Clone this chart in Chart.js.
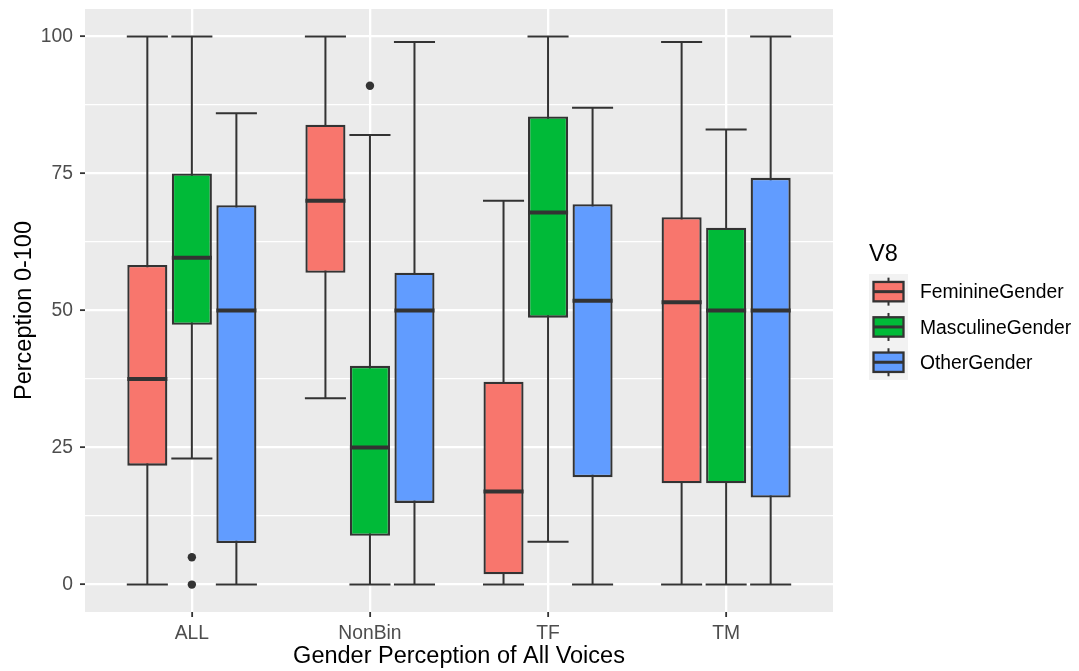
<!DOCTYPE html>
<html><head><meta charset="utf-8">
<script src="https://cdn.jsdelivr.net/npm/chart.js@4/dist/chart.umd.min.js"></script>
<style>html,body{margin:0;padding:0;background:#fff;}canvas{display:block;}</style>
</head><body>
<canvas id="c" width="1079" height="671"></canvas>
<script>
// ---- data ----
const categories = ['ALL', 'NonBin', 'TF', 'TM'];
const categoryPositions = [1, 2, 3, 4];
const seriesNames = ['FeminineGender', 'MasculineGender', 'OtherGender'];
const seriesColors = ['#F8766D', '#00BA38', '#619CFF'];

const feminineLow  = [0, 34, 0, 0];
const feminineQ1   = [21.7, 56.9, 1.9, 18.5];
const feminineMed  = [37.5, 70, 17, 51.5];
const feminineQ3   = [58.3, 83.9, 37, 67];
const feminineHigh = [100, 100, 70, 99];
const feminineOutliers = [[], [], [], []];

const masculineLow  = [23, 0, 7.8, 0];
const masculineQ1   = [47.4, 8.9, 48.7, 18.5];
const masculineMed  = [59.6, 25, 67.9, 50];
const masculineQ3   = [75, 39.9, 85.4, 65.1];
const masculineHigh = [100, 82, 100, 83];
const masculineOutliers = [[5, 0], [91], [], []];

const otherLow  = [0, 0, 0, 0];
const otherQ1   = [7.6, 14.9, 19.6, 15.9];
const otherMed  = [50, 50, 51.8, 50];
const otherQ3   = [69.2, 56.9, 69.4, 74.2];
const otherHigh = [86, 99, 87, 100];
const otherOutliers = [[], [], [], []];

const yMajorTicks = [0, 25, 50, 75, 100];
const yMinorTicks = [12.5, 37.5, 62.5, 87.5];
const legendTitle = 'V8';
const xTitle = 'Gender Perception of All Voices';
const yTitle = 'Perception 0-100';

// ---- build datasets ----
function makeDataset(idx, low, q1, med, q3, high, outliers) {
  return {
    label: seriesNames[idx],
    data: categoryPositions.map((x, i) => ({x: x, y: [q1[i], q3[i]]})),
    backgroundColor: seriesColors[idx],
    borderColor: '#333333',
    borderWidth: 2.3,
    borderSkipped: false,
    whiskerLow: low, whiskerHigh: high, medians: med, outliers: outliers
  };
}
const datasets = [
  makeDataset(0, feminineLow, feminineQ1, feminineMed, feminineQ3, feminineHigh, feminineOutliers),
  makeDataset(1, masculineLow, masculineQ1, masculineMed, masculineQ3, masculineHigh, masculineOutliers),
  makeDataset(2, otherLow, otherQ1, otherMed, otherQ3, otherHigh, otherOutliers)
];

const FONT = "'Liberation Sans', Arial, sans-serif";
const INK = '#333333';
const TICK_SIZE = 19.3;
const TITLE_SIZE = 23.5;

const boxPlugin = {
  id: 'boxplot',
  beforeDraw(chart) {
    const {ctx, chartArea: a} = chart;
    ctx.save();
    ctx.fillStyle = '#EBEBEB';
    ctx.fillRect(a.left, a.top, a.right - a.left, a.bottom - a.top);
    ctx.restore();
  },
  beforeDatasetsDraw(chart) {
    const y = chart.scales.y, ctx = chart.ctx;
    ctx.save();
    ctx.strokeStyle = INK; ctx.lineWidth = 2;
    chart.data.datasets.forEach((ds, di) => {
      chart.getDatasetMeta(di).data.forEach((el, i) => {
        const x = el.x, w = el.width + 1;
        const lo = y.getPixelForValue(ds.whiskerLow[i]);
        const hi = y.getPixelForValue(ds.whiskerHigh[i]);
        ctx.beginPath();
        ctx.moveTo(x, lo); ctx.lineTo(x, hi);
        ctx.moveTo(x - w / 2, lo); ctx.lineTo(x + w / 2, lo);
        ctx.moveTo(x - w / 2, hi); ctx.lineTo(x + w / 2, hi);
        ctx.stroke();
      });
    });
    ctx.restore();
  },
  afterDatasetsDraw(chart) {
    const y = chart.scales.y, ctx = chart.ctx;
    ctx.save();
    chart.data.datasets.forEach((ds, di) => {
      chart.getDatasetMeta(di).data.forEach((el, i) => {
        const x = el.x, w = el.width;
        const m = y.getPixelForValue(ds.medians[i]);
        ctx.strokeStyle = INK; ctx.lineWidth = 4;
        ctx.beginPath(); ctx.moveTo(x - w / 2, m); ctx.lineTo(x + w / 2, m); ctx.stroke();
        ctx.fillStyle = INK;
        ds.outliers[i].forEach(v => {
          ctx.beginPath(); ctx.arc(x, y.getPixelForValue(v), 4.2, 0, Math.PI * 2); ctx.fill();
        });
      });
    });
    ctx.restore();
  },
  afterDraw(chart) {
    const ctx = chart.ctx;
    ctx.save();
    ctx.fillStyle = '#000000';
    ctx.font = TITLE_SIZE + 'px ' + FONT;
    ctx.textAlign = 'left'; ctx.textBaseline = 'alphabetic';
    ctx.fillText(legendTitle, 869, 261);
    const keyX = 869, keyY = 274, keyW = 39, keyH = 35.3;
    ctx.fillStyle = '#F2F2F2';
    ctx.fillRect(keyX, keyY, keyW, keyH * chart.data.datasets.length);
    chart.data.datasets.forEach((ds, i) => {
      const cy = keyY + keyH * i + keyH / 2;
      const cx = keyX + keyW / 2;
      ctx.strokeStyle = INK; ctx.lineWidth = 2;
      ctx.beginPath(); ctx.moveTo(cx, cy - 14); ctx.lineTo(cx, cy + 14); ctx.stroke();
      ctx.fillStyle = ds.backgroundColor;
      ctx.fillRect(cx - 15, cy - 9.7, 30, 19.4);
      ctx.lineWidth = 2.3;
      ctx.strokeRect(cx - 15, cy - 9.7, 30, 19.4);
      ctx.lineWidth = 3;
      ctx.beginPath(); ctx.moveTo(cx - 15, cy); ctx.lineTo(cx + 15, cy); ctx.stroke();
      ctx.fillStyle = '#000000';
      ctx.font = TICK_SIZE + 'px ' + FONT;
      ctx.textBaseline = 'middle';
      ctx.fillText(ds.label, 920, cy + 1.5);
    });
    ctx.restore();
  }
};

new Chart(document.getElementById('c'), {
  type: 'bar',
  data: {datasets: datasets},
  options: {
    responsive: false,
    devicePixelRatio: 1,
    animation: false,
    events: [],
    layout: {padding: {left: 0, top: 9, right: 246, bottom: 0}},
    datasets: {bar: {categoryPercentage: 0.75, barPercentage: 0.9, grouped: true}},
    plugins: {legend: {display: false}, tooltip: {enabled: false}},
    scales: {
      x: {
        type: 'linear', min: 0.4, max: 4.6, offset: false,
        afterBuildTicks(s) { s.ticks = categoryPositions.map(v => ({value: v})); },
        afterFit(s) { s.height = 59; s.paddingLeft = 0; s.paddingRight = 0; },
        border: {display: false},
        grid: {offset: false, color: '#FFFFFF', lineWidth: 2.3, tickColor: INK, tickLength: 5, tickWidth: 1.8},
        ticks: {
          autoSkip: false, maxRotation: 0, padding: 5,
          color: '#4D4D4D', font: {family: FONT, size: TICK_SIZE},
          callback: v => categories[categoryPositions.indexOf(v)] || ''
        },
        title: {display: true, text: xTitle, color: '#000000', font: {family: FONT, size: TITLE_SIZE}, padding: {top: 0, bottom: 0}}
      },
      y: {
        type: 'linear', min: -5, max: 105,
        afterBuildTicks(s) { s.ticks = yMajorTicks.concat(yMinorTicks).sort((a, b) => a - b).map(v => ({value: v})); },
        afterFit(s) { s.width = 85; s.paddingTop = 0; s.paddingBottom = 0; },
        border: {display: false},
        grid: {
          color: '#FFFFFF',
          lineWidth: c => (c.tick && yMajorTicks.includes(c.tick.value)) ? 2.3 : 1.2,
          tickColor: c => (c.tick && yMajorTicks.includes(c.tick.value)) ? INK : 'rgba(0,0,0,0)',
          tickLength: 5, tickWidth: 1.8
        },
        ticks: {
          autoSkip: false, padding: 7,
          color: '#4D4D4D', font: {family: FONT, size: TICK_SIZE},
          callback: v => yMajorTicks.includes(v) ? String(v) : ''
        },
        title: {display: true, text: yTitle, color: '#000000', font: {family: FONT, size: TITLE_SIZE}, padding: {top: 10, bottom: 0}}
      }
    }
  },
  plugins: [boxPlugin]
});
</script>
</body></html>
